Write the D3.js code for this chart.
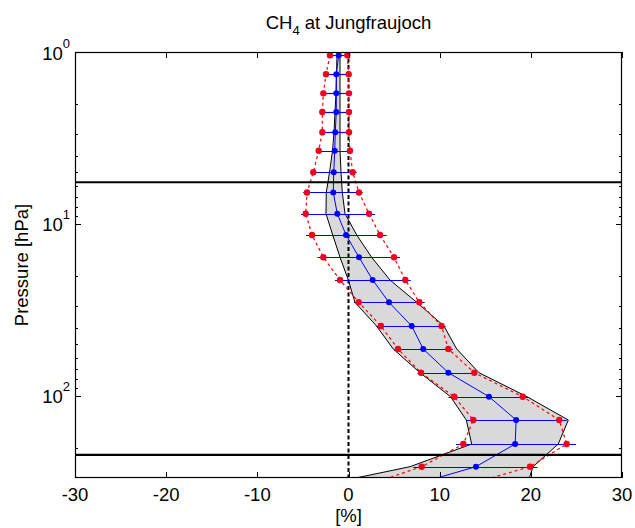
<!DOCTYPE html>
<html><head><meta charset="utf-8">
<script src="https://cdn.jsdelivr.net/npm/d3@7"></script>
<style>body{margin:0;background:#fff} text{font-family:"Liberation Sans",Arial,sans-serif;fill:#000}</style>
</head><body><svg id="c" width="635" height="528"></svg>
<script>
// pressure levels [hPa]
const pressure = [1.045, 1.348, 1.739, 2.233, 2.931, 3.749, 5.007, 6.561, 8.714, 11.59, 15.62, 21.17, 28.54, 39.2, 53.33, 73.25, 101.0, 138.0, 190.3, 257.8, 352];
// blue mean profile [%]
const meanVals = [-1.07, -1.34, -1.34, -1.34, -1.45, -1.51, -1.62, -1.67, -1.23, -0.27, 1.15, 2.65, 4.44, 6.93, 8.20, 10.95, 15.41, 18.39, 18.28, 13.98, 5.2];
// red dashed profiles [%]
const redLow  = [-2.03, -2.47, -2.76, -2.87, -2.87, -3.27, -3.86, -4.55, -4.69, -4.0, -2.76, -0.93, 1.12, 3.56, 5.43, 7.95, 11.60, 13.69, 12.59, 8.03, 0.5];
const redHigh = [-0.13, 0.02, 0.05, 0.05, 0.05, 0.16, 0.46, 1.15, 2.25, 3.46, 4.99, 6.23, 7.77, 10.2, 10.95, 13.80, 19.11, 23.11, 23.93, 19.91, 11.1];
// blue horizontal error bars [%]
const barLow  = [-2.14, -2.61, -2.91, -3.05, -3.05, -3.53, -4.22, -4.97, -5.21, -4.66, -3.42, -1.48, 0.60, 3.09, 5.02, 7.59, 10.97, 12.96, 11.79, 7.11, -1.5];
const barHigh = [0.05, 0.27, 0.35, 0.35, 0.38, 0.46, 0.90, 1.56, 2.91, 4.19, 5.65, 6.82, 8.36, 10.66, 11.43, 14.06, 19.85, 23.93, 24.95, 20.73, 11.9];
// grey envelope [%]
const envLow  = [-1.26, -1.32, -1.37, -1.48, -1.59, -1.75, -2.08, -2.44, -2.47, -1.73, -0.93, -0.02, 0.71, 3.07, 4.91, 7.84, 11.19, 12.92, 13.51, 6.75, -5.5];
const envHigh = [-0.93, -0.93, -0.93, -0.93, -0.93, -0.93, -0.82, -0.68, -0.38, 0.90, 2.54, 4.55, 7.48, 10.47, 11.87, 14.31, 19.58, 24.11, 23.01, 20.24, 19.4];
// axis ticks and reference levels
const xTicks = [-30, -20, -10, 0, 10, 20, 30];
const yTickExp = [0, 1, 2];
const refLevels = [5.72, 220];

const svg = d3.select("#c");
const L = 75, R = 622, T = 52, B = 478;
const x = d3.scaleLinear().domain([-30, 30]).range([L, R]);
const y = d3.scaleLog().domain([1, 300]).range([T, B]);

const rows = pressure.map((p, i) => ({p, m: meanVals[i], rl: redLow[i], rh: redHigh[i], bl: barLow[i], bh: barHigh[i], el: envLow[i], eh: envHigh[i]}));

svg.append("defs").append("clipPath").attr("id", "clip")
  .append("rect").attr("x", L).attr("y", T).attr("width", R - L).attr("height", B - T);
const g = svg.append("g").attr("clip-path", "url(#clip)");

// envelope fill
g.append("path").datum(rows)
  .attr("d", d3.area().y(d => y(d.p)).x0(d => x(d.el)).x1(d => x(d.eh)))
  .attr("fill", "#d9d9d9").attr("stroke", "none");
["el", "eh"].forEach(k => {
  g.append("path").datum(rows)
    .attr("d", d3.line().x(d => x(d[k])).y(d => y(d.p)))
    .attr("fill", "none").attr("stroke", "#000").attr("stroke-width", 1);
});

// zero dashed line
g.append("line").attr("x1", x(0)).attr("x2", x(0)).attr("y1", T).attr("y2", B)
  .attr("stroke", "#000").attr("stroke-width", 2).attr("stroke-dasharray", "4,2.5");

// blue error bars
g.selectAll(".bar").data(rows).enter().append("line")
  .attr("x1", d => x(d.bl)).attr("x2", d => x(d.bh))
  .attr("y1", d => Math.round(y(d.p)) + 0.5).attr("y2", d => Math.round(y(d.p)) + 0.5)
  .attr("stroke", "#0000ff").attr("stroke-width", 1.2);

// blue mean line
g.append("path").datum(rows)
  .attr("d", d3.line().x(d => x(d.m)).y(d => y(d.p)))
  .attr("fill", "none").attr("stroke", "#0000ff").attr("stroke-width", 1);

// red dashed lines
["rl", "rh"].forEach(k => {
  g.append("path").datum(rows)
    .attr("d", d3.line().x(d => x(d[k])).y(d => y(d.p)))
    .attr("fill", "none").attr("stroke", "#ff0000").attr("stroke-width", 1.2).attr("stroke-dasharray", "3,3");
});

// reference levels
refLevels.forEach(p => {
  g.append("line").attr("x1", L).attr("x2", R).attr("y1", y(p)).attr("y2", y(p))
    .attr("stroke", "#000").attr("stroke-width", 2.2);
});

// red dots
["rl", "rh"].forEach(k => {
  g.selectAll(".r" + k).data(rows).enter().append("circle")
    .attr("cx", d => x(d[k])).attr("cy", d => y(d.p)).attr("r", 3.2)
    .attr("fill", "#f20020");
});
// blue dots
g.selectAll(".bd").data(rows).enter().append("circle")
  .attr("cx", d => x(d.m)).attr("cy", d => y(d.p)).attr("r", 3)
  .attr("fill", "#0000ff");

// axes box
svg.append("rect").attr("x", L + 0.5).attr("y", T + 0.5).attr("width", R - L - 1).attr("height", B - T - 1)
  .attr("fill", "none").attr("stroke", "#000").attr("stroke-width", 1.2);

// x ticks
const ax = svg.append("g");
xTicks.forEach(v => {
  const px = Math.round(x(v)) + 0.5;
  ax.append("line").attr("x1", px).attr("x2", px).attr("y1", B).attr("y2", B - 6).attr("stroke", "#000");
  ax.append("line").attr("x1", px).attr("x2", px).attr("y1", T).attr("y2", T + 6).attr("stroke", "#000");
  ax.append("text").attr("x", x(v)).attr("y", 501).attr("text-anchor", "middle")
    .attr("font-size", 18.5).text(v);
});

// y ticks (log, major + minor)
const yMinor = [];
for (let e = 0; e <= 2; e++) for (let k = 2; k <= 9; k++) { const v = k * Math.pow(10, e); if (v < 300) yMinor.push(v); }
yMinor.forEach(v => {
  const py = Math.round(y(v)) + 0.5;
  ax.append("line").attr("x1", L).attr("x2", L + 3).attr("y1", py).attr("y2", py).attr("stroke", "#000");
  ax.append("line").attr("x1", R).attr("x2", R - 3).attr("y1", py).attr("y2", py).attr("stroke", "#000");
});
yTickExp.forEach(e => {
  const v = Math.pow(10, e);
  const py = Math.round(y(v)) + 0.5;
  ax.append("line").attr("x1", L).attr("x2", L + 6).attr("y1", py).attr("y2", py).attr("stroke", "#000");
  ax.append("line").attr("x1", R).attr("x2", R - 6).attr("y1", py).attr("y2", py).attr("stroke", "#000");
  const t = ax.append("text").attr("x", 70).attr("y", y(v) + 7.5).attr("text-anchor", "end").attr("font-size", 18.5);
  t.append("tspan").text("10");
  t.append("tspan").attr("dy", -12).attr("font-size", 13).text(e);
});

// title
const title = svg.append("text").attr("x", 348.5).attr("y", 29).attr("text-anchor", "middle").attr("font-size", 18.5);
title.append("tspan").text("CH");
title.append("tspan").attr("dy", 6).attr("font-size", 13).text("4");
title.append("tspan").attr("dy", -6).text(" at Jungfraujoch");

// axis labels
svg.append("text").attr("x", 348.5).attr("y", 522).attr("text-anchor", "middle").attr("font-size", 18.5).text("[%]");
svg.append("text").attr("transform", "translate(28,265) rotate(-90)").attr("text-anchor", "middle")
  .attr("font-size", 18.5).text("Pressure [hPa]");
</script></body></html>
